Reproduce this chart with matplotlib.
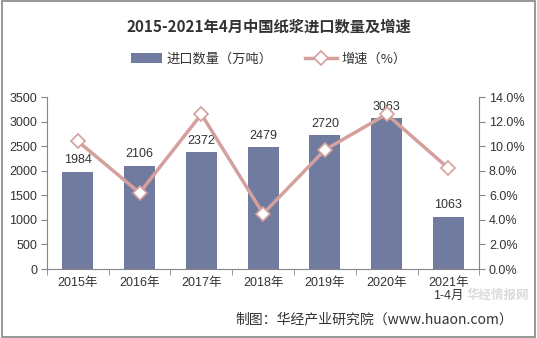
import matplotlib
matplotlib.use("Agg")
import matplotlib.pyplot as plt
import numpy as np
from matplotlib.ticker import FuncFormatter, FixedLocator

plt.rcParams['font.family'] = ['Noto Sans CJK SC', 'DejaVu Sans']

categories = ["2015年", "2016年", "2017年", "2018年", "2019年", "2020年", "2021年\n1-4月"]
volume = [1984, 2106, 2372, 2479, 2720, 3063, 1063]
growth = [10.4, 6.2, 12.6, 4.5, 9.7, 12.6, 8.2]

bar_color = "#717BA0"
line_color = "#D4A09E"
grey = "#868686"
txt = "#333333"

fig = plt.figure(figsize=(5.37, 3.38), dpi=100)
ax = fig.add_axes([0.0875, 0.204, 0.805, 0.509])
x = np.arange(len(categories))
bars = ax.bar(x, volume, width=0.5, color=bar_color, zorder=2, label="进口数量（万吨）")
for xi, v in zip(x, volume):
    ax.text(xi, v + 110, str(v), ha="center", va="bottom", fontsize=9, color=txt,
            family=["Liberation Sans", "DejaVu Sans"])
ax.set_xlim(-0.5, len(categories) - 0.5)
ax.set_ylim(0, 3500)
ax.set_yticks(np.arange(0, 3501, 500))
ax.set_xticks(x)
ax.set_xticklabels(categories, linespacing=1.1)
ax.xaxis.set_minor_locator(FixedLocator(np.arange(-0.5, len(categories), 1)))
ax.tick_params(axis="x", which="major", length=0, labelsize=9, colors=txt, pad=6)
ax.tick_params(axis="x", which="minor", length=4, color=grey, direction="out")
ax.tick_params(axis="y", length=4, color=grey, labelsize=9, labelcolor=txt, direction="out", pad=3)
for lbl in ax.get_yticklabels() + ax.get_xticklabels():
    lbl.set_family(["Liberation Sans", "Noto Sans CJK SC"])
for s in ["top", "right"]:
    ax.spines[s].set_visible(False)
for s in ["left", "bottom"]:
    ax.spines[s].set_color(grey)

ax2 = ax.twinx()
ln, = ax2.plot(x, growth, color=line_color, lw=2.5, marker="D", markersize=7,
               markerfacecolor="white", markeredgecolor=line_color, markeredgewidth=1.2,
               zorder=3, label="增速（%）")
ax2.set_ylim(0, 14)
ax2.set_yticks(np.arange(0, 14.1, 2))
ax2.yaxis.set_major_formatter(FuncFormatter(lambda v, p: f"{v:.1f}%"))
ax2.tick_params(axis="y", length=4, color=grey, labelsize=9, labelcolor=txt, direction="out", pad=3)
for lbl in ax2.get_yticklabels():
    lbl.set_family(["Liberation Sans", "DejaVu Sans"])
for s in ["top", "left", "bottom"]:
    ax2.spines[s].set_visible(False)
ax2.spines["right"].set_color(grey)

fig.text(0.5, 0.92, "2015-2021年4月中国纸浆进口数量及增速", ha="center", va="center",
         fontsize=11, fontweight="bold", color=txt)
fig.legend(handles=[bars, ln], loc="center", bbox_to_anchor=(0.5, 0.825), ncol=2,
           frameon=False, fontsize=9.5, handlelength=2.4, columnspacing=2.5,
           labelcolor=txt, handletextpad=0.3)

fig.text(0.955, 0.035, "制图：华经产业研究院（www.huaon.com）", ha="right", va="bottom",
         fontsize=10, color=txt)
fig.text(0.927, 0.125, "华经情报网", ha="center", va="center", fontsize=9,
         fontweight="bold", color="#CCCCCC", alpha=0.7)

fig.patches.append(plt.Rectangle((0.003, 0.003), 0.994, 0.994, transform=fig.transFigure,
                                 fill=False, edgecolor=grey, lw=1.2))
fig.savefig("out.png", dpi=100)
